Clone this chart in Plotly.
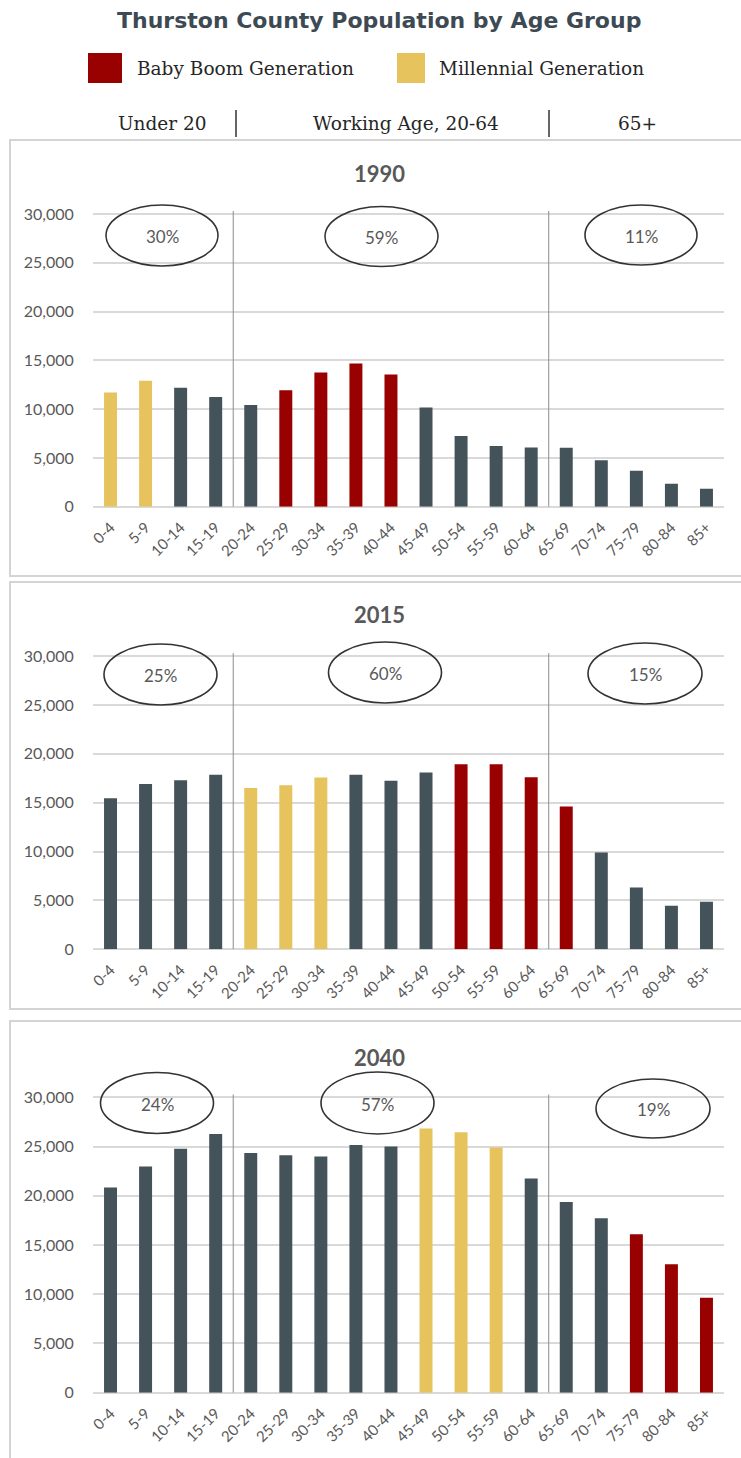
import plotly.graph_objects as go

W, H = 741, 1458

# ---------------- data ----------------
age_groups = ["0-4", "5-9", "10-14", "15-19", "20-24", "25-29", "30-34", "35-39",
              "40-44", "45-49", "50-54", "55-59", "60-64", "65-69", "70-74",
              "75-79", "80-84", "85+"]
years = ["1990", "2015", "2040"]

pop_1990 = [11710, 12900, 12190, 11260, 10420, 11950, 13760, 14680, 13550,
            10180, 7240, 6220, 6080, 6040, 4780, 3690, 2360, 1840]
pop_2015 = [15460, 16920, 17300, 17850, 16510, 16790, 17570, 17850, 17230,
            18080, 18940, 18940, 17610, 14600, 9890, 6310, 4460, 4870]
pop_2040 = [20830, 22960, 24760, 26280, 24350, 24120, 23980, 25160, 24990,
            26820, 26450, 24890, 21740, 19370, 17720, 16090, 13040, 9650]

# generation membership per age group (M = Millennial, B = Baby Boom, O = other)
gen_1990 = ["M", "M", "O", "O", "O", "B", "B", "B", "B", "O", "O", "O", "O", "O", "O", "O", "O", "O"]
gen_2015 = ["O", "O", "O", "O", "M", "M", "M", "O", "O", "O", "B", "B", "B", "B", "O", "O", "O", "O"]
gen_2040 = ["O", "O", "O", "O", "O", "O", "O", "O", "O", "M", "M", "M", "O", "O", "O", "B", "B", "B"]

share_1990 = ["30%", "59%", "11%"]
share_2015 = ["25%", "60%", "15%"]
share_2040 = ["24%", "57%", "19%"]

group_labels = ["Under 20", "Working Age, 20-64", "65+"]
legend_labels = ["Baby Boom Generation", "Millennial Generation"]
y_ticks = [0, 5000, 10000, 15000, 20000, 25000, 30000]

# ---------------- styles ----------------
C_OTHER = "#44525a"
C_BOOM = "#990000"
C_MILL = "#e6c35c"
gen_color = {"O": C_OTHER, "B": C_BOOM, "M": C_MILL}
GRID = "#d9d9d9"
TXT = "#595959"
SANS = "Lato, 'Open Sans', sans-serif"
SERIF = "'DejaVu Serif', 'Liberation Serif', serif"


def px(x):
    return x / W


def py(y):
    return 1 - y / H


fig = go.Figure()

series = [pop_1990, pop_2015, pop_2040]
gens = [gen_1990, gen_2015, gen_2040]
shares = [share_1990, share_2015, share_2040]

# pixel geometry of each panel: (zero line y, top of axis y)
panel_px = [(506.8, 211.0), (949.3, 653.1), (1392.7, 1094.3)]
title_y = [173, 614, 1057]
ellipses = [
    [(162, 235.5, 112, 61), (381.5, 236.5, 113, 60), (641, 235, 112, 60)],
    [(160.5, 674.5, 113, 61), (385, 672.5, 113, 61), (645, 673.5, 114, 61)],
    [(157, 1103, 113, 61), (377.5, 1103, 113, 62), (653, 1108.5, 114, 59)],
]
boxes = [(140, 576), (582, 1009), (1021, 1475)]

shapes = []
annotations = []

for i in range(3):
    sfx = "" if i == 0 else str(i + 1)
    xa, ya = "x" + sfx, "y" + sfx
    fig.add_trace(go.Bar(
        x=age_groups, y=series[i],
        marker=dict(color=[gen_color[g] for g in gens[i]], line=dict(width=0)),
        xaxis=xa, yaxis=ya, showlegend=False,
        hovertemplate="%{x}: %{y:,}<extra>" + years[i] + "</extra>",
    ))
    y0p, y1p = panel_px[i]
    fig.update_layout(**{
        "xaxis" + sfx: dict(
            domain=[px(93), px(724)], anchor=ya, type="category",
            tickangle=-45, tickfont=dict(family=SANS, size=15, color=TXT),
            showgrid=False, showline=False, zeroline=False,
            ticks="outside", ticklen=5, tickcolor="rgba(0,0,0,0)",
            fixedrange=True, automargin=False,
        ),
        "yaxis" + sfx: dict(
            domain=[py(y0p), py(y1p)], anchor=xa, range=[0, 30300],
            tickvals=y_ticks, tickformat=",",
            tickfont=dict(family=SANS, size=16, color=TXT),
            showgrid=True, gridcolor=GRID, gridwidth=1.5,
            zeroline=True, zerolinecolor=GRID, zerolinewidth=1.5,
            showline=False, ticks="outside", ticklen=15,
            tickcolor="rgba(0,0,0,0)", fixedrange=True, automargin=False,
        ),
    })
    # panel frame
    b0, b1 = boxes[i]
    shapes.append(dict(type="rect", xref="paper", yref="paper",
                       x0=px(10), x1=px(780), y0=py(b1), y1=py(b0),
                       line=dict(color="#d4d4d4", width=2), fillcolor="rgba(0,0,0,0)",
                       layer="below"))
    # dividers between age bands
    for xv in (3.5, 12.5):
        shapes.append(dict(type="line", xref=xa, yref=ya, x0=xv, x1=xv,
                           y0=0, y1=30300, line=dict(color="#8c8c8c", width=1)))
    # share ellipses
    for (cx, cy, ew, eh), lab in zip(ellipses[i], shares[i]):
        shapes.append(dict(type="circle", xref="paper", yref="paper",
                           x0=px(cx - ew / 2), x1=px(cx + ew / 2),
                           y0=py(cy + eh / 2), y1=py(cy - eh / 2),
                           line=dict(color="#333333", width=1.6)))
        annotations.append(dict(xref="paper", yref="paper", x=px(cx), y=py(cy + 1),
                                text=lab, showarrow=False,
                                font=dict(family=SANS, size=17, color=TXT),
                                xanchor="center", yanchor="middle"))
    # panel title
    annotations.append(dict(xref="paper", yref="paper", x=px(380), y=py(title_y[i]),
                            text="<b>" + years[i] + "</b>", showarrow=False,
                            font=dict(family=SANS, size=22, color=TXT),
                            xanchor="center", yanchor="middle"))

# ---------------- header ----------------
annotations.append(dict(xref="paper", yref="paper", x=px(379), y=py(20),
                        text="<b>Thurston County Population by Age Group</b>",
                        showarrow=False,
                        font=dict(family="'DejaVu Sans', sans-serif",
                                  size=22, color="#3d4a53"),
                        xanchor="center", yanchor="middle"))

for (sx0, sx1, tx), col, lab in zip([(88, 122, 135), (397, 425, 437)],
                                    [C_BOOM, C_MILL], legend_labels):
    shapes.append(dict(type="rect", xref="paper", yref="paper",
                       x0=px(sx0), x1=px(sx1), y0=py(83), y1=py(53),
                       fillcolor=col, line=dict(width=0)))
    annotations.append(dict(xref="paper", yref="paper", x=px(tx), y=py(69),
                            text=lab, showarrow=False,
                            font=dict(family=SERIF, size=18.5, color="#262626"),
                            xanchor="left", yanchor="middle"))

for cx, lab in zip([162, 406, 637], group_labels):
    annotations.append(dict(xref="paper", yref="paper", x=px(cx), y=py(123),
                            text=lab, showarrow=False,
                            font=dict(family=SERIF, size=18.5, color="#262626"),
                            xanchor="center", yanchor="middle"))
for sx in (236, 549):
    shapes.append(dict(type="line", xref="paper", yref="paper",
                       x0=px(sx), x1=px(sx), y0=py(137), y1=py(110),
                       line=dict(color="#333333", width=1.5)))

fig.update_layout(
    width=W, height=H,
    margin=dict(l=0, r=0, t=0, b=0, pad=0, autoexpand=False),
    paper_bgcolor="white", plot_bgcolor="rgba(0,0,0,0)",
    bargap=0.63, shapes=shapes, annotations=annotations,
    showlegend=False,
)

fig.write_html(
    "out.html",
    config={"displayModeBar": False},
    post_script="document.body.style.margin='0';document.body.style.overflow='hidden';",
)
